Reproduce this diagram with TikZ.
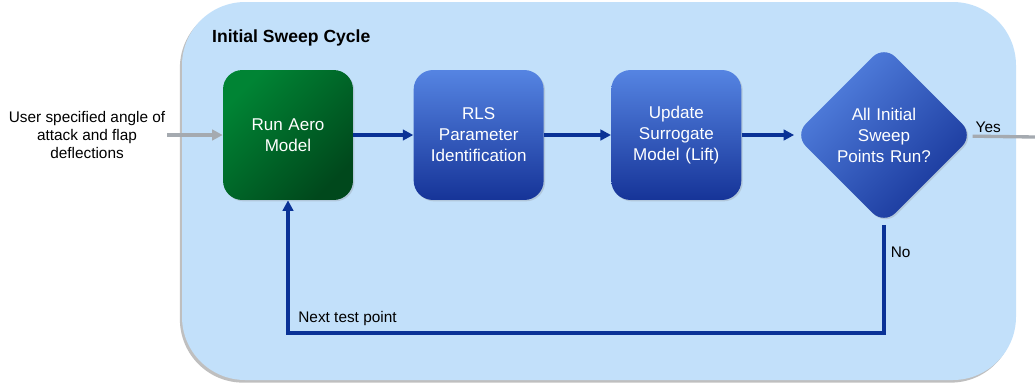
\documentclass[tikz,border=0pt]{standalone}
\usepackage{fontspec}
\setmainfont{Liberation Sans}
\usetikzlibrary{positioning,shapes.geometric,shadows,arrows.meta}

\definecolor{panelblue}{RGB}{194,224,250}
\definecolor{flowblue}{RGB}{10,50,150}
\definecolor{boxtop}{RGB}{85,132,226}
\definecolor{boxbot}{RGB}{22,52,152}
\definecolor{greentop}{RGB}{0,132,52}
\definecolor{greenbot}{RGB}{0,72,28}
\definecolor{feedgray}{RGB}{165,170,176}

\tikzset{
  stepbox/.style={rectangle, rounded corners=11pt, minimum width=2.6cm, minimum height=2.6cm,
    text width=2.2cm, align=center, text=white, font=\fontsize{9.7}{12}\selectfont,
    top color=boxtop, bottom color=boxbot,
    drop shadow={opacity=0.25, shadow xshift=0.8pt, shadow yshift=-0.8pt}},
  runbox/.style={stepbox, top color=greentop, bottom color=greenbot, shading angle=45},
  decision/.style={diamond, aspect=1, rounded corners=9pt, minimum size=3.58cm, inner sep=0pt,
    text width=1.9cm, align=center, text=white, font=\fontsize{9.7}{12}\selectfont,
    top color=boxtop, bottom color=boxbot, shading angle=45,
    drop shadow={opacity=0.25, shadow xshift=0.8pt, shadow yshift=-0.8pt}},
  note/.style={align=center, inner sep=1pt, font=\fontsize{8.75}{10}\selectfont},
  flow/.style={draw=flowblue, line width=1.8pt, -{Triangle[length=6pt,width=6pt]}},
  feed/.style={draw=feedgray, line width=1.9pt}
}

\begin{document}
\begin{tikzpicture}[x=0.02cm,y=-0.02cm]
  \useasboundingbox (0,0) rectangle (1035,386);

  % cycle panel
  \fill[panelblue, rounded corners=36pt,
    drop shadow={opacity=0.5, shadow xshift=-1.2pt, shadow yshift=-1.5pt}] (182,2) rectangle (1016,380);
  \node[anchor=west, font=\bfseries\fontsize{10}{12}\selectfont] (title) at (206,38) {Initial Sweep Cycle};

  \node[runbox] (aero) at (288,135) {Run Aero\\Model};
  \node[stepbox] (rls) [right = 1.2cm of aero] {RLS\\Parameter\\Identification};
  \node[stepbox] (surr) [right = 1.34cm of rls] {Update\\Surrogate\\Model (Lift)};
  \node[decision] (check) [right = 1.05cm of surr] {All Initial\\Sweep\\Points Run?};

  \node[note] (user) at (87,135) {User specified angle of\\attack and flap\\deflections};
  \coordinate (exit) at (1035,137);
  \coordinate (bot) at (0,333);

  \draw[feed, -{Triangle[length=6pt,width=6pt]}] (user) -- (aero);
  \draw[flow] (aero) -- (rls);
  \draw[flow] (rls) -- (surr);
  \draw[flow] (surr) -- (check);
  \draw[feed] (check) -- node[note, pos=0.25, above] {Yes} (exit);
  % back to the model for the next point
  \draw[flow] (check.south) -- node[note, pos=0.25, right=2pt] {No} (check.south |- bot)
    -| node[note, pos=0.5, above right=2pt and 4pt] {Next test point} (aero.south);
\end{tikzpicture}
\end{document}
